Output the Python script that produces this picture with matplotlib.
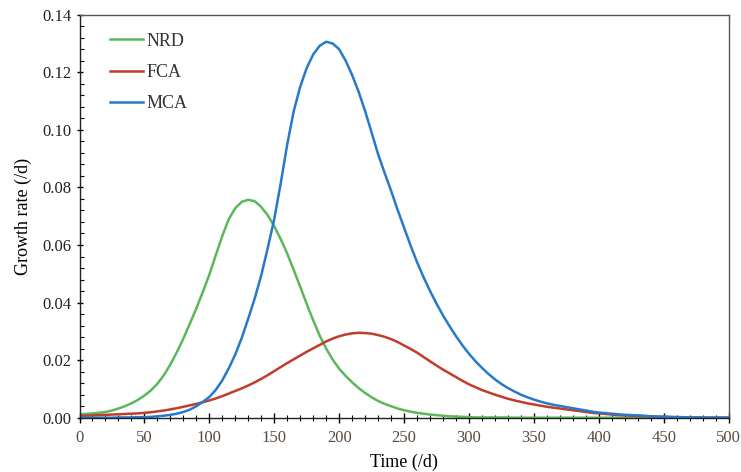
import matplotlib
matplotlib.use("Agg")
import matplotlib.pyplot as plt
from matplotlib.ticker import MultipleLocator, FormatStrFormatter

plt.rcParams['font.family'] = ['Liberation Serif', 'DejaVu Serif']

# time axis in days (5-day steps)
time = list(range(0, 501, 5))

nrd = [0.0012, 0.0013, 0.0015, 0.0017, 0.0020, 0.0025, 0.0032, 0.0040, 0.0050, 0.0062,
       0.0077, 0.0095, 0.0118, 0.0148, 0.0185, 0.0228, 0.0275, 0.0327, 0.0380, 0.0437,
       0.0497, 0.0565, 0.0632, 0.0690, 0.0728, 0.0750, 0.0757, 0.0752, 0.0732, 0.0703,
       0.0665, 0.0620, 0.0570, 0.0513, 0.0455, 0.0395, 0.0338, 0.0285, 0.0240, 0.0202,
       0.0170, 0.0145, 0.0123, 0.0103, 0.0086, 0.0071, 0.0058, 0.0048, 0.0040, 0.0032,
       0.0026, 0.0021, 0.0017, 0.0014, 0.0011, 0.0009, 0.0007, 0.0005, 0.0004, 0.0003,
       0.0002, 0.0001, 0.0001, 0.0001, 0.0001, 0.0001, 0.0001, 0.0, 0.0, 0.0,
       0.0, 0.0, 0.0, 0.0, 0.0, 0.0, 0.0, 0.0, 0.0, 0.0,
       0.0, 0.0, 0.0, 0.0, 0.0, 0.0, 0.0, 0.0, 0.0, 0.0,
       0.0, 0.0, 0.0, 0.0, 0.0, 0.0, 0.0, 0.0, 0.0, 0.0,
       0.0]

fca = [0.0007, 0.0007, 0.0008, 0.0009, 0.0010, 0.0011, 0.0012, 0.0013, 0.0014, 0.0015,
       0.0017, 0.0019, 0.0022, 0.0025, 0.0029, 0.0033, 0.0038, 0.0043, 0.0048, 0.0054,
       0.0060, 0.0067, 0.0075, 0.0084, 0.0093, 0.0102, 0.0112, 0.0123, 0.0135, 0.0148,
       0.0162, 0.0176, 0.0190, 0.0203, 0.0216, 0.0229, 0.0241, 0.0253, 0.0265, 0.0275,
       0.0283, 0.0289, 0.0293, 0.0295, 0.0294, 0.0292, 0.0287, 0.0281, 0.0273, 0.0263,
       0.0251, 0.0239, 0.0226, 0.0211, 0.0196, 0.0181, 0.0167, 0.0154, 0.0141, 0.0128,
       0.0116, 0.0106, 0.0096, 0.0088, 0.0080, 0.0073, 0.0066, 0.0060, 0.0055, 0.0050,
       0.0046, 0.0042, 0.0038, 0.0035, 0.0032, 0.0029, 0.0026, 0.0023, 0.0020, 0.0017,
       0.0015, 0.0013, 0.0011, 0.0009, 0.0008, 0.0007, 0.0006, 0.0005, 0.0004, 0.0003,
       0.0003, 0.0002, 0.0002, 0.0001, 0.0001, 0.0, 0.0, 0.0, 0.0, 0.0,
       0.0]

mca = [0.0, 0.0, 0.0, 0.0, 0.0, 0.0, 0.0001, 0.0001, 0.0001, 0.0002,
       0.0002, 0.0003, 0.0005, 0.0007, 0.0010, 0.0014, 0.0020, 0.0028, 0.0040, 0.0055,
       0.0072, 0.0097, 0.0130, 0.0172, 0.0220, 0.0278, 0.0345, 0.0415, 0.0495, 0.0590,
       0.0690, 0.0815, 0.0950, 0.1065, 0.1150, 0.1215, 0.1262, 0.1292, 0.1306, 0.1300,
       0.1280, 0.1240, 0.1190, 0.1132, 0.1065, 0.0990, 0.0915, 0.0850, 0.0788, 0.0722,
       0.0660, 0.0598, 0.0540, 0.0488, 0.0440, 0.0396, 0.0355, 0.0318, 0.0283, 0.0251,
       0.0222, 0.0196, 0.0173, 0.0152, 0.0133, 0.0117, 0.0103, 0.0091, 0.0080, 0.0071,
       0.0063, 0.0056, 0.0050, 0.0045, 0.0041, 0.0037, 0.0033, 0.0029, 0.0025, 0.0021,
       0.0018, 0.0016, 0.0014, 0.0012, 0.0010, 0.0009, 0.0008, 0.0007, 0.0005, 0.0004,
       0.0004, 0.0003, 0.0002, 0.0002, 0.0001, 0.0001, 0.0, 0.0, 0.0, 0.0,
       0.0]

series = [("NRD", nrd, "#5bb85a"), ("FCA", fca, "#c23b2b"), ("MCA", mca, "#2779c9")]

fig = plt.figure(figsize=(7.41, 4.72), dpi=100)
ax = fig.add_axes([0.1073, 0.1150, 0.8761, 0.8539])

for name, vals, col in series:
    ax.plot(time, vals, color=col, lw=1.8, label=name)

ax.set_xlim(0, 500)
ax.set_ylim(0, 0.14)
ax.xaxis.set_major_locator(MultipleLocator(50))
ax.xaxis.set_minor_locator(MultipleLocator(10))
ax.yaxis.set_major_locator(MultipleLocator(0.02))
ax.yaxis.set_minor_locator(MultipleLocator(0.004))
ax.yaxis.set_major_formatter(FormatStrFormatter('%.2f'))

ax.tick_params(axis='x', which='major', direction='inout', length=7, width=1, labelsize=12,
               labelcolor='#5a4b3e', pad=5.5)
ax.tick_params(axis='x', which='minor', direction='inout', length=4, width=0.8)
ax.tick_params(axis='y', which='major', direction='inout', length=5, width=1, labelsize=12,
               labelcolor='#222222', pad=3)
ax.tick_params(axis='y', which='minor', direction='in', length=3, width=0.8)

for s in ['left', 'bottom']:
    ax.spines[s].set_color('#222222')
    ax.spines[s].set_linewidth(1.0)
for s in ['top', 'right']:
    ax.spines[s].set_color('#555555')
    ax.spines[s].set_linewidth(1.0)

ax.set_xlabel('Time (/d)', fontsize=13, labelpad=5.5)
ax.set_ylabel('Growth rate (/d)', fontsize=13, labelpad=8)

ax.legend(loc='upper left', bbox_to_anchor=(0.047, 0.955), frameon=False, fontsize=13,
          handlelength=1.8, handletextpad=0.2, labelspacing=0.79, borderpad=0, borderaxespad=0,
          labelcolor='#333333')

fig.savefig('out.png', dpi=100)
